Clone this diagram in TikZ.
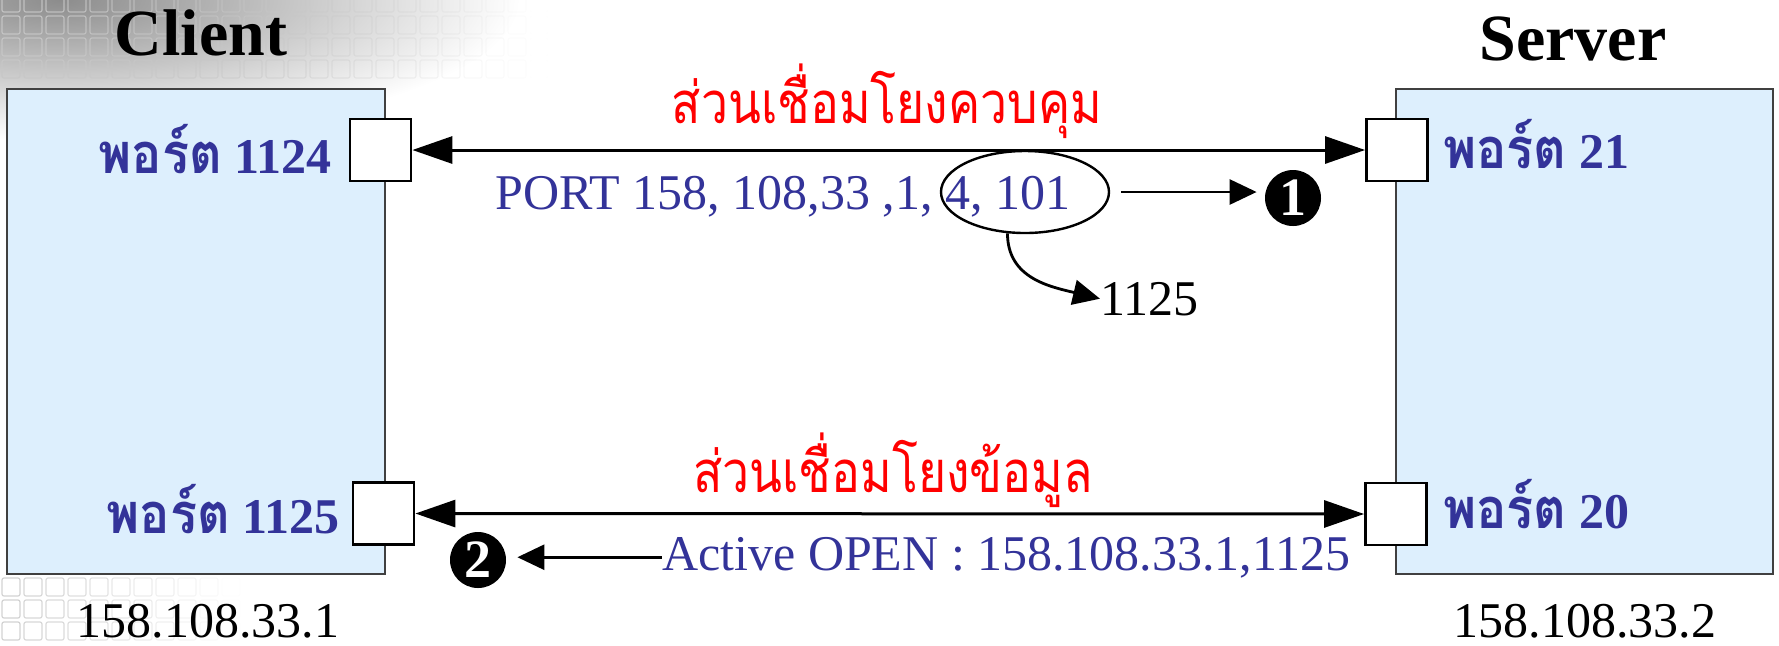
\documentclass[tikz,border=0pt]{standalone}
\usepackage{fontspec}
\setmainfont{Liberation Serif}
\newfontfamily\thaired[Script=Thai,FakeStretch=0.83]{Loma}
\newfontfamily\thaiport[Script=Thai,FakeStretch=0.9]{Loma}
\usetikzlibrary{arrows.meta,shapes.geometric}
\definecolor{boxblue}{RGB}{221,239,253}
\definecolor{txtblue}{RGB}{51,51,153}
\definecolor{boxline}{RGB}{64,64,64}
\newcommand\thaiw[1]{{\thaiport\fontsize{28pt}{30pt}\selectfont #1}}
\begin{document}
\begin{tikzpicture}[x=0.5pt,y=-0.5pt,
  hostbox/.style={draw=boxline,line width=0.7pt,fill=boxblue,inner sep=0,minimum height=242.5pt},
  title/.style={font=\fontsize{33pt}{36pt}\selectfont\bfseries,inner sep=0,anchor=base},
  portsq/.style={draw=black,line width=1.4pt,fill=white,minimum width=30.5pt,minimum height=31pt,inner sep=0},
  portlbl/.style={text=txtblue,font=\fontsize{25pt}{30pt}\selectfont\bfseries,inner sep=0},
  redlbl/.style={text=red,font=\thaired\fontsize{29pt}{32pt}\selectfont,inner sep=0,anchor=base},
  bluetxt/.style={text=txtblue,font=\fontsize{25pt}{30pt}\selectfont,inner sep=0},
  plaintxt/.style={text=black,font=\fontsize{25pt}{30pt}\selectfont,inner sep=0},
  link/.style={line width=1.5pt,{Triangle[length=20pt,width=13.5pt]}-{Triangle[length=20pt,width=13.5pt]}},
  smallarr/.style={line width=1.4pt,-{Triangle[length=13.5pt,width=12.5pt]}},
  badge/.style={circle,fill=black,minimum size=28pt,inner sep=0,text=white,font=\fontsize{27pt}{27pt}\selectfont\bfseries},
  oval/.style={draw,ellipse,line width=1.2pt,minimum width=84pt,minimum height=41pt,inner sep=0}]
\useasboundingbox (0,0) rectangle (1779,645);
% background decoration
\begin{scope}
\clip (0,0) rectangle (1779,645);
\shade[inner color=black!45,outer color=white] (60,0) ellipse (460 and 140);
\foreach \i in {0,...,26}{\foreach \j in {0,...,3}{
  \pgfmathsetmacro{\op}{max(0,0.9-\i/27)}
  \draw[black!22,line width=0.6pt,opacity=\op,rounded corners=1pt] ({\i*22+2},{\j*22-6}) rectangle +(18,18);}}
\foreach \i in {0,...,12}{\foreach \j in {0,...,2}{
  \pgfmathsetmacro{\op}{max(0,0.8-\i/13)}
  \draw[black!22,line width=0.6pt,opacity=\op,rounded corners=1pt] ({\i*22+2},{578+\j*22}) rectangle +(18,18);}}
\end{scope}
% hosts
\node[hostbox,minimum width=189pt] (client) at (196,331.5) {};
\node[hostbox,minimum width=188.5pt] (server) at (1584.5,331.5) {};
\node[title] (clientT) at (201,55) {Client};
\node[title] (serverT) at (1573,60) {Server};
% ports
\node[portsq] (ptl) at (380.5,150) {};
\node[portsq] (ptr) at (1397,150) {};
\node[portsq] (pbl) at (383.5,513.5) {};
\node[portsq] (pbr) at (1396,514) {};
\node[portlbl,anchor=base east] (l1124) at (332,173) {\thaiw{พอร์ต} 1124};
\node[portlbl,anchor=base west] (l21) at (1443,168) {\thaiw{พอร์ต} 21};
\node[portlbl,anchor=base east] (l1125) at (340,533) {\thaiw{พอร์ต} 1125};
\node[portlbl,anchor=base west] (l20) at (1443,528) {\thaiw{พอร์ต} 20};
% links
\draw[link] (ptl.east) -- (ptr.west);
\draw[link] (pbl.east) -- (pbr.west);
\node[redlbl] (ctrl) at (887,123) {ส่วนเชื่อมโยงควบคุม};
\node[redlbl] (data) at (893,492) {ส่วนเชื่อมโยงข้อมูล};
% control details
\node[bluetxt,anchor=base west] (cmd) at (495,209) {PORT 158, 108,33 ,1, 4, 101};
\node[oval] (ell) at (1025,192) {};
\node[badge] (b1) at (1293,198) {\raisebox{-1.5pt}{1}};
\draw[smallarr,shorten <=5.5pt,shorten >=4pt] (ell.east) -- (ell.east -| b1.west);
\node[plaintxt,anchor=base west] (n1125) at (1100,315) {1125};
\draw[smallarr] (ell.247) .. controls +(0,45) and +(-50,-12) .. (n1125.west);
% data details
\node[bluetxt,anchor=base east] (active) at (1351,570) {Active OPEN : 158.108.33.1,1125};
\node[badge] (b2) at (478,560) {\raisebox{-1.5pt}{2}};
\draw[smallarr,shorten >=5.5pt] (active.west) -- (active.west -| b2.east);
% addresses
\node[plaintxt,anchor=base] (ipc) at (208,637) {158.108.33.1};
\node[plaintxt,anchor=base] (ips) at (1585,637) {158.108.33.2};
\end{tikzpicture}
\end{document}
